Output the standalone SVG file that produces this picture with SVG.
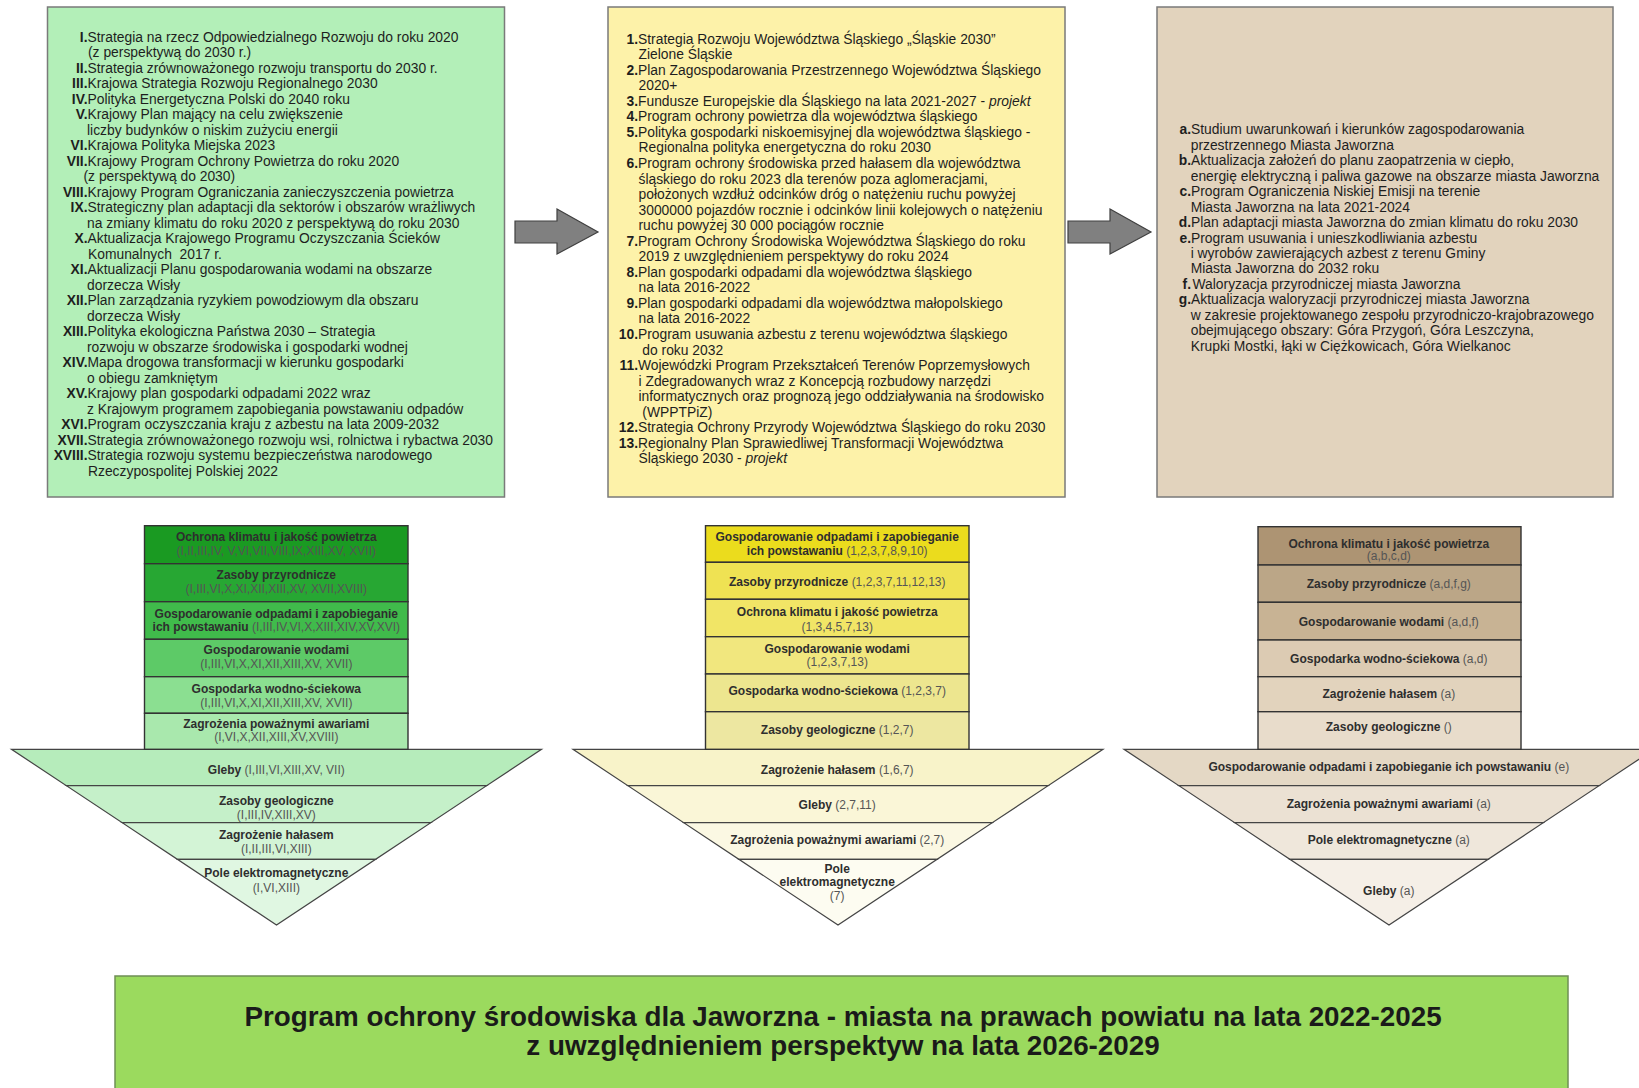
<svg xmlns="http://www.w3.org/2000/svg" width="1639" height="1088" viewBox="0 0 1639 1088">
<style>
text{font-family:"Liberation Sans",Arial,sans-serif;}
.t{font-size:13.85px;fill:#1e1e1e;}
.n{font-size:13.85px;fill:#1e1e1e;font-weight:bold;text-anchor:end;}
.i{font-style:italic;}
.box{stroke:#7a7a7a;stroke-width:1.5;}
.row{stroke:#333;stroke-width:1.4;}
.band{stroke:#444;stroke-width:1.2;}
.h{font-size:12px;font-weight:bold;fill:#2e2e2e;text-anchor:middle;}
.p{font-weight:normal;fill:#555;}
.arr{fill:#808080;stroke:#404040;stroke-width:1.2;}
.title{font-size:27.8px;font-weight:bold;fill:#1a1a1a;text-anchor:middle;}
</style>
<rect width="1639" height="1088" fill="#ffffff"/>

<g id="list-national">
<rect class="box" x="47.5" y="7" width="457" height="490" fill="#b3efb8"/>
<text class="n" x="87.5" y="41.5">I.</text><text class="t" x="87.5" y="41.5">Strategia na rzecz Odpowiedzialnego Rozwoju do roku 2020</text>
<text class="t" x="88" y="57">(z perspektywą do 2030 r.)</text>
<text class="n" x="87.5" y="72.5">II.</text><text class="t" x="87.5" y="72.5">Strategia zrównoważonego rozwoju transportu do 2030 r.</text>
<text class="n" x="87.5" y="88">III.</text><text class="t" x="87.5" y="88">Krajowa Strategia Rozwoju Regionalnego 2030</text>
<text class="n" x="87.5" y="103.5">IV.</text><text class="t" x="87.5" y="103.5">Polityka Energetyczna Polski do 2040 roku</text>
<text class="n" x="87.5" y="119">V.</text><text class="t" x="87.5" y="119">Krajowy Plan mający na celu zwiększenie</text>
<text class="t" x="87" y="134.5">liczby budynków o niskim zużyciu energii</text>
<text class="n" x="87.5" y="150">VI.</text><text class="t" x="87.5" y="150">Krajowa Polityka Miejska 2023</text>
<text class="n" x="87.5" y="165.5">VII.</text><text class="t" x="87.5" y="165.5">Krajowy Program Ochrony Powietrza do roku 2020</text>
<text class="t" x="83.5" y="181">(z perspektywą do 2030)</text>
<text class="n" x="87.5" y="196.5">VIII.</text><text class="t" x="87.5" y="196.5">Krajowy Program Ograniczania zanieczyszczenia powietrza</text>
<text class="n" x="87.5" y="212">IX.</text><text class="t" x="87.5" y="212">Strategiczny plan adaptacji dla sektorów i obszarów wrażliwych</text>
<text class="t" x="87" y="227.5">na zmiany klimatu do roku 2020 z perspektywą do roku 2030</text>
<text class="n" x="87.5" y="243">X.</text><text class="t" x="87.5" y="243">Aktualizacja Krajowego Programu Oczyszczania Ścieków</text>
<text class="t" x="88" y="258.5">Komunalnych&#160; 2017 r.</text>
<text class="n" x="87.5" y="274">XI.</text><text class="t" x="87.5" y="274">Aktualizacji Planu gospodarowania wodami na obszarze</text>
<text class="t" x="87" y="289.5">dorzecza Wisły</text>
<text class="n" x="87.5" y="305">XII.</text><text class="t" x="87.5" y="305">Plan zarządzania ryzykiem powodziowym dla obszaru</text>
<text class="t" x="87" y="320.5">dorzecza Wisły</text>
<text class="n" x="87.5" y="336">XIII.</text><text class="t" x="87.5" y="336">Polityka ekologiczna Państwa 2030 – Strategia</text>
<text class="t" x="87" y="351.5">rozwoju w obszarze środowiska i gospodarki wodnej</text>
<text class="n" x="87.5" y="367">XIV.</text><text class="t" x="87.5" y="367">Mapa drogowa transformacji w kierunku gospodarki</text>
<text class="t" x="87" y="382.5">o obiegu zamkniętym</text>
<text class="n" x="87.5" y="398">XV.</text><text class="t" x="87.5" y="398">Krajowy plan gospodarki odpadami 2022 wraz</text>
<text class="t" x="87" y="413.5">z Krajowym programem zapobiegania powstawaniu odpadów</text>
<text class="n" x="87.5" y="429">XVI.</text><text class="t" x="87.5" y="429">Program oczyszczania kraju z azbestu na lata 2009-2032</text>
<text class="n" x="87.5" y="444.5">XVII.</text><text class="t" x="87.5" y="444.5">Strategia zrównoważonego rozwoju wsi, rolnictwa i rybactwa 2030</text>
<text class="n" x="87.5" y="460">XVIII.</text><text class="t" x="87.5" y="460">Strategia rozwoju systemu bezpieczeństwa narodowego</text>
<text class="t" x="88" y="475.5">Rzeczypospolitej Polskiej 2022</text>
</g>

<g id="list-regional">
<rect class="box" x="608" y="7" width="457" height="490" fill="#fdf2a9"/>
<text class="n" x="638" y="43.5">1.</text><text class="t" x="638" y="43.5">Strategia Rozwoju Województwa Śląskiego „Śląskie 2030”</text>
<text class="t" x="638.5" y="59">Zielone Śląskie</text>
<text class="n" x="638" y="74.6">2.</text><text class="t" x="638" y="74.6">Plan Zagospodarowania Przestrzennego Województwa Śląskiego</text>
<text class="t" x="638.5" y="90.2">2020+</text>
<text class="n" x="638" y="105.7">3.</text><text class="t" x="638" y="105.7">Fundusze Europejskie dla Śląskiego na lata 2021-2027 - <tspan class="i">projekt</tspan></text>
<text class="n" x="638" y="121.3">4.</text><text class="t" x="638" y="121.3">Program ochrony powietrza dla województwa śląskiego</text>
<text class="n" x="638" y="136.8">5.</text><text class="t" x="638" y="136.8">Polityka gospodarki niskoemisyjnej dla województwa śląskiego -</text>
<text class="t" x="638.5" y="152.4">Regionalna polityka energetyczna do roku 2030</text>
<text class="n" x="638" y="167.9">6.</text><text class="t" x="638" y="167.9">Program ochrony środowiska przed hałasem dla województwa</text>
<text class="t" x="638.5" y="183.5">śląskiego do roku 2023 dla terenów poza aglomeracjami,</text>
<text class="t" x="638.5" y="199">położonych wzdłuż odcinków dróg o natężeniu ruchu powyżej</text>
<text class="t" x="638.5" y="214.6">3000000 pojazdów rocznie i odcinków linii kolejowych o natężeniu</text>
<text class="t" x="638.5" y="230.1">ruchu powyżej 30 000 pociągów rocznie</text>
<text class="n" x="638" y="245.7">7.</text><text class="t" x="638" y="245.7">Program Ochrony Środowiska Województwa Śląskiego do roku</text>
<text class="t" x="638.5" y="261.2">2019 z uwzględnieniem perspektywy do roku 2024</text>
<text class="n" x="638" y="276.8">8.</text><text class="t" x="638" y="276.8">Plan gospodarki odpadami dla województwa śląskiego</text>
<text class="t" x="638.5" y="292.3">na lata 2016-2022</text>
<text class="n" x="638" y="307.9">9.</text><text class="t" x="638" y="307.9">Plan gospodarki odpadami dla województwa małopolskiego</text>
<text class="t" x="638.5" y="323.4">na lata 2016-2022</text>
<text class="n" x="638" y="339">10.</text><text class="t" x="638" y="339">Program usuwania azbestu z terenu województwa śląskiego</text>
<text class="t" x="642.3" y="354.5">do roku 2032</text>
<text class="n" x="638" y="370">11.</text><text class="t" x="638" y="370">Wojewódzki Program Przekształceń Terenów Poprzemysłowych</text>
<text class="t" x="638.5" y="385.6">i Zdegradowanych wraz z Koncepcją rozbudowy narzędzi</text>
<text class="t" x="638.5" y="401.2">informatycznych oraz prognozą jego oddziaływania na środowisko</text>
<text class="t" x="642.3" y="416.7">(WPPTPiZ)</text>
<text class="n" x="638" y="432.3">12.</text><text class="t" x="638" y="432.3">Strategia Ochrony Przyrody Województwa Śląskiego do roku 2030</text>
<text class="n" x="638" y="447.8">13.</text><text class="t" x="638" y="447.8">Regionalny Plan Sprawiedliwej Transformacji Województwa</text>
<text class="t" x="638.5" y="463.4">Śląskiego 2030 - <tspan class="i">projekt</tspan></text>
</g>

<g id="list-local">
<rect class="box" x="1157" y="7" width="456" height="490" fill="#e2d3bd"/>
<text class="n" x="1191" y="134.3">a.</text><text class="t" x="1191" y="134.3">Studium uwarunkowań i kierunków zagospodarowania</text>
<text class="t" x="1190.7" y="149.8">przestrzennego Miasta Jaworzna</text>
<text class="n" x="1191" y="165.2">b.</text><text class="t" x="1191" y="165.2">Aktualizacja założeń do planu zaopatrzenia w ciepło,</text>
<text class="t" x="1190.7" y="180.7">energię elektryczną i paliwa gazowe na obszarze miasta Jaworzna</text>
<text class="n" x="1191" y="196.1">c.</text><text class="t" x="1191" y="196.1">Program Ograniczenia Niskiej Emisji na terenie</text>
<text class="t" x="1190.7" y="211.6">Miasta Jaworzna na lata 2021-2024</text>
<text class="n" x="1191" y="227.1">d.</text><text class="t" x="1191" y="227.1">Plan adaptacji miasta Jaworzna do zmian klimatu do roku 2030</text>
<text class="n" x="1191" y="242.5">e.</text><text class="t" x="1191" y="242.5">Program usuwania i unieszkodliwiania azbestu</text>
<text class="t" x="1190.7" y="258">i wyrobów zawierających azbest z terenu Gminy</text>
<text class="t" x="1190.7" y="273.4">Miasta Jaworzna do 2032 roku</text>
<text class="n" x="1191" y="288.9">f.</text><text class="t" x="1192.5" y="288.9">Waloryzacja przyrodniczej miasta Jaworzna</text>
<text class="n" x="1191" y="304.4">g.</text><text class="t" x="1191" y="304.4">Aktualizacja waloryzacji przyrodniczej miasta Jaworzna</text>
<text class="t" x="1190.7" y="319.8">w zakresie projektowanego zespołu przyrodniczo-krajobrazowego</text>
<text class="t" x="1190.7" y="335.3">obejmującego obszary: Góra Przygoń, Góra Leszczyna,</text>
<text class="t" x="1190.7" y="350.7">Krupki Mostki, łąki w Ciężkowicach, Góra Wielkanoc</text>
</g>

<g id="connectors">
<polygon class="arr" points="515,221 557,221 557,209 598,232 557,254 557,243 515,243"/>
<polygon class="arr" points="1068,221 1110,221 1110,209 1151,232 1110,254 1110,243 1068,243"/>
</g>

<g id="pyramid-national">
<polygon class="band" points="11.5,749.3 541.5,749.3 486.6,785.7 66.4,785.7" fill="#b6ecbb"/>
<polygon class="band" points="66.4,785.7 486.6,785.7 430.8,822.7 122.2,822.7" fill="#c5f0c9"/>
<polygon class="band" points="122.2,822.7 430.8,822.7 375.6,859.3 177.4,859.3" fill="#d3f4d6"/>
<polygon class="band" points="177.4,859.3 375.6,859.3 276.5,925" fill="#e0f7e2"/>
<rect class="row" x="144.5" y="525.7" width="263.5" height="38" fill="#1a9a22"/>
<rect class="row" x="144.5" y="563.7" width="263.5" height="38" fill="#27a733"/>
<rect class="row" x="144.5" y="601.7" width="263.5" height="37.6" fill="#40bb4b"/>
<rect class="row" x="144.5" y="639.3" width="263.5" height="37.4" fill="#5dca67"/>
<rect class="row" x="144.5" y="676.7" width="263.5" height="36.6" fill="#8bdf91"/>
<rect class="row" x="144.5" y="713.3" width="263.5" height="36" fill="#a9e8ad"/>
<text class="h" x="276.3" y="541">Ochrona klimatu i jakość powietrza</text>
<text class="h" x="276.3" y="555.3"><tspan class="p">(I,II,III,IV, V,VI,VII,VIII,IX,XIII,XV, XVII)</tspan></text>
<text class="h" x="276.3" y="579.3">Zasoby przyrodnicze</text>
<text class="h" x="276.3" y="592.6"><tspan class="p">(I,III,VI,X,XI,XII,XIII,XV, XVII,XVIII)</tspan></text>
<text class="h" x="276.3" y="617.6">Gospodarowanie odpadami i zapobieganie</text>
<text class="h" x="276.3" y="631">ich powstawaniu <tspan class="p">(I,III,IV,VI,X,XIII,XIV,XV,XVI)</tspan></text>
<text class="h" x="276.3" y="654.3">Gospodarowanie wodami</text>
<text class="h" x="276.3" y="667.6"><tspan class="p">(I,III,VI,X,XI,XII,XIII,XV, XVII)</tspan></text>
<text class="h" x="276.3" y="692.6">Gospodarka wodno-ściekowa</text>
<text class="h" x="276.3" y="706.6"><tspan class="p">(I,III,VI,X,XI,XII,XIII,XV, XVII)</tspan></text>
<text class="h" x="276.3" y="727.6">Zagrożenia poważnymi awariami</text>
<text class="h" x="276.3" y="741"><tspan class="p">(I,VI,X,XII,XIII,XV,XVIII)</tspan></text>
<text class="h" x="276.3" y="774.3">Gleby <tspan class="p">(I,III,VI,XIII,XV, VII)</tspan></text>
<text class="h" x="276.3" y="805.3">Zasoby geologiczne</text>
<text class="h" x="276.3" y="819.3"><tspan class="p">(I,III,IV,XIII,XV)</tspan></text>
<text class="h" x="276.3" y="839.3">Zagrożenie hałasem</text>
<text class="h" x="276.3" y="852.6"><tspan class="p">(I,II,III,VI,XIII)</tspan></text>
<text class="h" x="276.3" y="877">Pole elektromagnetyczne</text>
<text class="h" x="276.3" y="892"><tspan class="p">(I,VI,XIII)</tspan></text>
</g>

<g id="pyramid-regional">
<polygon class="band" points="573,749.3 1103,749.3 1048.1,785.7 627.9,785.7" fill="#f8f3c9"/>
<polygon class="band" points="627.9,785.7 1048.1,785.7 992.3,822.7 683.7,822.7" fill="#faf6d7"/>
<polygon class="band" points="683.7,822.7 992.3,822.7 937.1,859.3 738.9,859.3" fill="#fbf8e3"/>
<polygon class="band" points="738.9,859.3 937.1,859.3 838,925" fill="#fdfcf1"/>
<rect class="row" x="705.5" y="525.7" width="263.5" height="36.6" fill="#ebdc1d"/>
<rect class="row" x="705.5" y="562.3" width="263.5" height="37" fill="#efe253"/>
<rect class="row" x="705.5" y="599.3" width="263.5" height="37.4" fill="#f1e566"/>
<rect class="row" x="705.5" y="636.7" width="263.5" height="37.3" fill="#f1e77e"/>
<rect class="row" x="705.5" y="674" width="263.5" height="37.7" fill="#ede68f"/>
<rect class="row" x="705.5" y="711.7" width="263.5" height="37.6" fill="#ede7a1"/>
<text class="h" x="837.2" y="541">Gospodarowanie odpadami i zapobieganie</text>
<text class="h" x="837.2" y="555">ich powstawaniu <tspan class="p">(1,2,3,7,8,9,10)</tspan></text>
<text class="h" x="837.2" y="586">Zasoby przyrodnicze <tspan class="p">(1,2,3,7,11,12,13)</tspan></text>
<text class="h" x="837.2" y="616.3">Ochrona klimatu i jakość powietrza</text>
<text class="h" x="837.2" y="631"><tspan class="p">(1,3,4,5,7,13)</tspan></text>
<text class="h" x="837.2" y="652.6">Gospodarowanie wodami</text>
<text class="h" x="837.2" y="666"><tspan class="p">(1,2,3,7,13)</tspan></text>
<text class="h" x="837.2" y="695.3">Gospodarka wodno-ściekowa <tspan class="p">(1,2,3,7)</tspan></text>
<text class="h" x="837.2" y="733.6">Zasoby geologiczne <tspan class="p">(1,2,7)</tspan></text>
<text class="h" x="837.2" y="773.6">Zagrożenie hałasem <tspan class="p">(1,6,7)</tspan></text>
<text class="h" x="837.2" y="809.3">Gleby <tspan class="p">(2,7,11)</tspan></text>
<text class="h" x="837.2" y="844.3">Zagrożenia poważnymi awariami <tspan class="p">(2,7)</tspan></text>
<text class="h" x="837.2" y="872.6">Pole</text>
<text class="h" x="837.2" y="886">elektromagnetyczne</text>
<text class="h" x="837.2" y="900"><tspan class="p">(7)</tspan></text>
</g>

<g id="pyramid-local">
<polygon class="band" points="1124,749.3 1654,749.3 1599.1,785.7 1178.9,785.7" fill="#e4d8c5"/>
<polygon class="band" points="1178.9,785.7 1599.1,785.7 1543.3,822.7 1234.7,822.7" fill="#ebe1d3"/>
<polygon class="band" points="1234.7,822.7 1543.3,822.7 1488.1,859.3 1289.9,859.3" fill="#efe7db"/>
<polygon class="band" points="1289.9,859.3 1488.1,859.3 1389,925" fill="#f5efe7"/>
<rect class="row" x="1258" y="526.7" width="263" height="38.3" fill="#ad9473"/>
<rect class="row" x="1258" y="565" width="263" height="37.3" fill="#bba687"/>
<rect class="row" x="1258" y="602.3" width="263" height="37.7" fill="#c8b394"/>
<rect class="row" x="1258" y="640" width="263" height="36.7" fill="#dccbb3"/>
<rect class="row" x="1258" y="676.7" width="263" height="35" fill="#e2d3bd"/>
<rect class="row" x="1258" y="711.7" width="263" height="37.6" fill="#e8dccb"/>
<text class="h" x="1388.8" y="547.6">Ochrona klimatu i jakość powietrza</text>
<text class="h" x="1388.8" y="560.3"><tspan class="p">(a,b,c,d)</tspan></text>
<text class="h" x="1388.8" y="588.3">Zasoby przyrodnicze <tspan class="p">(a,d,f,g)</tspan></text>
<text class="h" x="1388.8" y="626">Gospodarowanie wodami <tspan class="p">(a,d,f)</tspan></text>
<text class="h" x="1388.8" y="662.6">Gospodarka wodno-ściekowa <tspan class="p">(a,d)</tspan></text>
<text class="h" x="1388.8" y="698.3">Zagrożenie hałasem <tspan class="p">(a)</tspan></text>
<text class="h" x="1388.8" y="731">Zasoby geologiczne <tspan class="p">()</tspan></text>
<text class="h" x="1388.8" y="771">Gospodarowanie odpadami i zapobieganie ich powstawaniu <tspan class="p">(e)</tspan></text>
<text class="h" x="1388.8" y="808.3">Zagrożenia poważnymi awariami <tspan class="p">(a)</tspan></text>
<text class="h" x="1388.8" y="844.3">Pole elektromagnetyczne <tspan class="p">(a)</tspan></text>
<text class="h" x="1388.8" y="895">Gleby <tspan class="p">(a)</tspan></text>
</g>

<g id="title">
<rect x="115" y="976" width="1453" height="120" fill="#9bda5e" stroke="#6f8f55" stroke-width="1.5"/>
<text class="title" x="843" y="1025.5">Program ochrony środowiska dla Jaworzna - miasta na prawach powiatu na lata 2022-2025</text>
<text class="title" x="843" y="1055">z uwzględnieniem perspektyw na lata 2026-2029</text>
</g>
</svg>
